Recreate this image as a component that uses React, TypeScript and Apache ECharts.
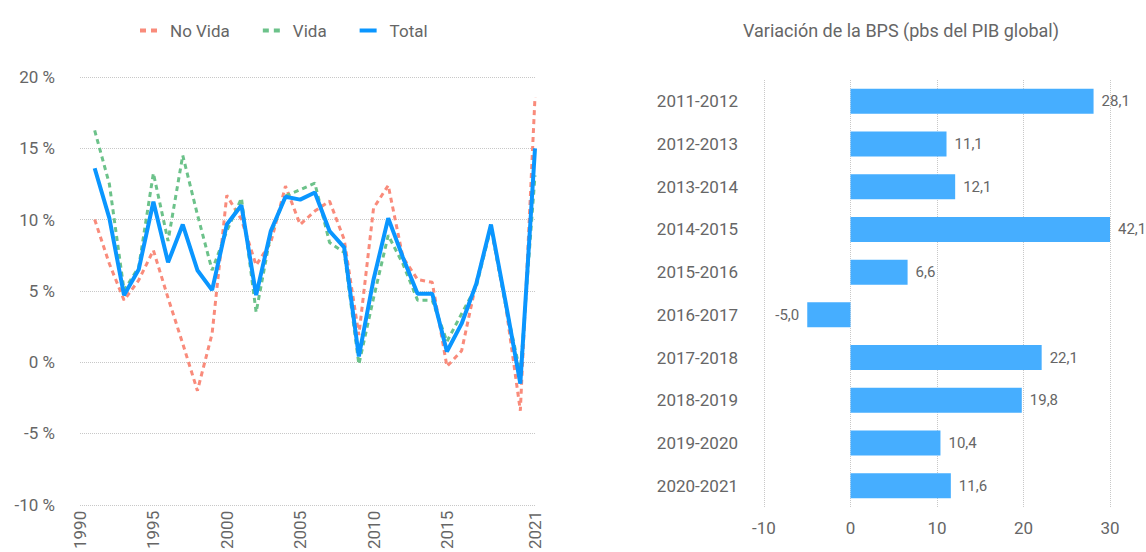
import React, { useEffect, useRef } from "react";
import * as echarts from "echarts";

const years = [1991,1992,1993,1994,1995,1996,1997,1998,1999,2000,2001,2002,2003,2004,2005,2006,2007,2008,2009,2010,2011,2012,2013,2014,2015,2016,2017,2018,2019,2020,2021];
const noVida = [10.0,6.9,4.35,5.75,7.85,4.5,1.3,-2.0,2.0,11.7,10.0,6.8,8.4,12.35,9.65,10.6,11.3,8.6,1.9,10.8,12.4,7.35,5.8,5.6,-0.3,0.8,5.6,9.5,4.0,-3.4,18.6];
const vida = [16.25,12.5,5.05,6.65,13.25,8.5,14.5,10.35,6.45,9.2,11.5,3.5,9.0,11.65,12.1,12.55,8.4,7.7,-0.15,4.5,8.9,6.9,4.35,4.35,1.45,3.4,5.3,9.45,4.0,-0.75,13.1];
const total = [13.6,10.1,4.7,6.5,11.25,7.0,9.65,6.45,5.05,9.65,11.0,4.7,9.2,11.6,11.4,11.9,9.2,8.05,0.4,5.8,10.1,7.35,4.8,4.8,0.75,2.7,5.5,9.65,4.2,-1.5,15.0];

const periods = ["2011-2012","2012-2013","2013-2014","2014-2015","2015-2016","2016-2017","2017-2018","2018-2019","2019-2020","2020-2021"];
const bpsChange = [28.1,11.1,12.1,42.1,6.6,-5.0,22.1,19.8,10.4,11.6];

const yTicksLeft = { min: -10, max: 20, interval: 5 };
const xYears = { min: 1990, max: 2021, interval: 5 };
const xBps = { min: -10, max: 30, interval: 10 };

const FONT = "Roboto, 'Noto Sans', sans-serif";
const GREY = "#666666";
const RED = "#F98B7B";
const GREEN = "#6CC28A";
const BLUE = "#0A96FF";
const BAR = "#46AEFF";

export default function App() {
  const ref = useRef<HTMLDivElement>(null);
  useEffect(() => {
    if (!ref.current) return;
    const chart = echarts.init(ref.current, undefined, { renderer: "svg" });
    const pairs = (arr: number[]) => years.map((y, i) => [y, arr[i]]);
    const dashIcon = "path://M0,0h6v4h-6z M11,0h6v4h-6z";
    chart.setOption({
      animation: false,
      textStyle: { fontFamily: FONT },
      title: {
        text: "Variación de la BPS (pbs del PIB global)",
        left: 896,
        top: 16,
        textAlign: "center",
        textStyle: { fontSize: 18, fontWeight: "normal", color: GREY, fontFamily: FONT },
      },
      legend: {
        left: 135,
        top: 17,
        itemWidth: 17,
        itemHeight: 4,
        itemGap: 33,
        symbolKeepAspect: false,
        textStyle: { fontSize: 17, color: GREY, fontFamily: FONT, padding: [0, 0, 0, 8] },
        data: [
          { name: "No Vida", icon: dashIcon, itemStyle: { color: RED } },
          { name: "Vida", icon: dashIcon, itemStyle: { color: GREEN } },
          { name: "Total", icon: "rect", itemStyle: { color: BLUE } },
        ],
      },
      grid: [
        { left: 80, right: 1146 - 535, top: 77, bottom: 552 - 510 },
        { left: 764, right: 1146 - 1110, top: 80, bottom: 552 - 507 },
      ],
      xAxis: [
        {
          type: "value",
          gridIndex: 0,
          min: xYears.min,
          max: xYears.max,
          interval: xYears.interval,
          axisLine: { show: false },
          axisTick: { show: false },
          splitLine: { show: false },
          axisLabel: {
            rotate: 90,
            fontSize: 17,
            color: GREY,
            margin: 6,
            showMaxLabel: true,
            formatter: (v: number) => (v === 2020 ? "" : String(v)),
          },
        },
        {
          type: "value",
          gridIndex: 1,
          min: xBps.min,
          max: xBps.max,
          interval: xBps.interval,
          axisLine: { show: false },
          axisTick: { show: false },
          splitLine: { show: true, lineStyle: { type: "dotted", color: "#c8c8c8", width: 1 } },
          axisLabel: { fontSize: 17, color: GREY, margin: 12 },
        },
      ],
      yAxis: [
        {
          type: "value",
          gridIndex: 0,
          min: yTicksLeft.min,
          max: yTicksLeft.max,
          interval: yTicksLeft.interval,
          axisLine: { show: false },
          axisTick: { show: false },
          splitLine: { show: true, lineStyle: { type: "dotted", color: "#c8c8c8", width: 1 } },
          axisLabel: { fontSize: 17, color: GREY, margin: 25, formatter: (v: number) => v + " %" },
        },
        {
          type: "category",
          gridIndex: 1,
          data: periods,
          inverse: true,
          axisLine: { show: false, onZero: false },
          axisTick: { show: false },
          splitLine: { show: false },
          axisLabel: { fontSize: 17, color: GREY, margin: 26 },
        },
      ],
      series: [
        {
          name: "No Vida",
          type: "line",
          xAxisIndex: 0,
          yAxisIndex: 0,
          symbol: "none",
          data: pairs(noVida),
          lineStyle: { color: RED, width: 3, type: [5, 4] },
          itemStyle: { color: RED },
        },
        {
          name: "Vida",
          type: "line",
          xAxisIndex: 0,
          yAxisIndex: 0,
          symbol: "none",
          data: pairs(vida),
          lineStyle: { color: GREEN, width: 3, type: [5, 4] },
          itemStyle: { color: GREEN },
        },
        {
          name: "Total",
          type: "line",
          xAxisIndex: 0,
          yAxisIndex: 0,
          symbol: "none",
          data: pairs(total),
          lineStyle: { color: BLUE, width: 4 },
          itemStyle: { color: BLUE },
        },
        {
          name: "BPS",
          type: "bar",
          xAxisIndex: 1,
          yAxisIndex: 1,
          barWidth: 25,
          clip: true,
          itemStyle: { color: BAR },
          label: {
            show: true,
            position: "right",
            distance: 8,
            fontSize: 15,
            color: GREY,
            formatter: (p: any) => Number(p.value).toFixed(1).replace(".", ","),
          },
          data: bpsChange.map((v) => ({
            value: v,
            label: { position: v < 0 ? "left" : "right" },
          })),
        },
      ],
    });
    return () => chart.dispose();
  }, []);
  return (
    <div
      ref={ref}
      style={{ position: "fixed", left: 0, top: 0, width: 1146, height: 552, background: "#fff" }}
    />
  );
}
